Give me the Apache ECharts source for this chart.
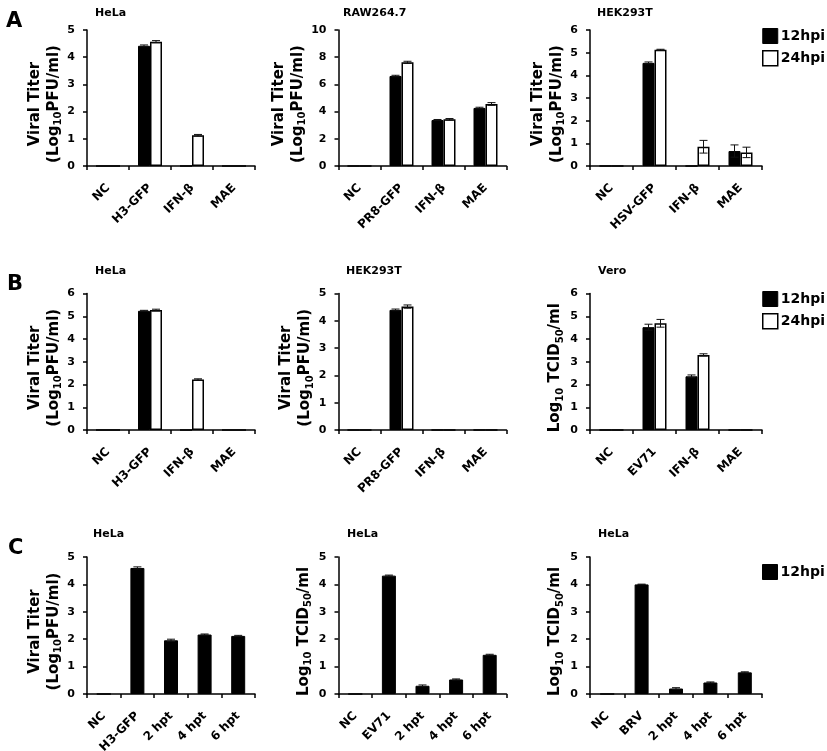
<!DOCTYPE html>
<html>
<head>
<meta charset="utf-8">
<script src="https://cdn.jsdelivr.net/npm/echarts@6/dist/echarts.min.js"></script>
<style>
html,body{margin:0;padding:0;background:#fff;}
#chart{width:827px;height:751px;}
</style>
</head>
<body>
<div id="chart"></div>
<script>
// ---------- data ----------
const catsA1 = ['NC', 'H3-GFP', 'IFN-β', 'MAE'];
const a1_12 = [0, 4.42, 0, 0];
const a1_24 = [0, 4.57, 1.13, 0];
const a1_12err = [0, 0.03, 0, 0];
const a1_24err = [0, 0.04, 0.03, 0];

const catsA2 = ['NC', 'PR8-GFP', 'IFN-β', 'MAE'];
const a2_12 = [0, 6.62, 3.38, 4.27];
const a2_24 = [0, 7.62, 3.43, 4.56];
const a2_12err = [0, 0.05, 0.04, 0.05];
const a2_24err = [0, 0.08, 0.06, 0.1];

const catsA3 = ['NC', 'HSV-GFP', 'IFN-β', 'MAE'];
const a3_12 = [0, 4.55, 0, 0.66];
const a3_24 = [0, 5.13, 0.85, 0.6];
const a3_12err = [0, 0.04, 0, 0.27];
const a3_24err = [0, 0.02, 0.28, 0.23];

const catsB1 = ['NC', 'H3-GFP', 'IFN-β', 'MAE'];
const b1_12 = [0, 5.24, 0, 0];
const b1_24 = [0, 5.27, 2.22, 0];
const b1_12err = [0, 0.02, 0, 0];
const b1_24err = [0, 0.04, 0.03, 0];

const catsB2 = ['NC', 'PR8-GFP', 'IFN-β', 'MAE'];
const b2_12 = [0, 4.4, 0, 0];
const b2_24 = [0, 4.52, 0, 0];
const b2_12err = [0, 0.03, 0, 0];
const b2_24err = [0, 0.06, 0, 0];

const catsB3 = ['NC', 'EV71', 'IFN-β', 'MAE'];
const b3_12 = [0, 4.52, 2.36, 0];
const b3_24 = [0, 4.69, 3.3, 0];
const b3_12err = [0, 0.13, 0.06, 0];
const b3_24err = [0, 0.17, 0.05, 0];

const catsC1 = ['NC', 'H3-GFP', '2 hpt', '4 hpt', '6 hpt'];
const c1_12 = [0, 4.6, 1.96, 2.17, 2.12];
const c1_12err = [0, 0.04, 0.04, 0.02, 0.02];

const catsC2 = ['NC', 'EV71', '2 hpt', '4 hpt', '6 hpt'];
const c2_12 = [0, 4.32, 0.3, 0.53, 1.43];
const c2_12err = [0, 0.02, 0.03, 0.02, 0.02];

const catsC3 = ['NC', 'BRV', '2 hpt', '4 hpt', '6 hpt'];
const c3_12 = [0, 4.0, 0.2, 0.42, 0.79];
const c3_12err = [0, 0.01, 0.03, 0.02, 0.02];

const yMax = [5, 10, 6, 6, 5, 6, 5, 5, 5];
const yStep = [1, 2, 1, 1, 1, 1, 1, 1, 1];
const titles = ['HeLa', 'RAW264.7', 'HEK293T', 'HeLa', 'HEK293T', 'Vero', 'HeLa', 'HeLa', 'HeLa'];
const letters = ['A', 'B', 'C'];
const legendNames = ['12hpi', '24hpi'];

// ---------- layout / style ----------
const FONT = 'DejaVu Sans';
const colLeft = [87, 338.5, 590];
const colWidth = [168, 168, 172];
const rowTop = [30, 293.5, 557];
const rowHeight = [136, 136.5, 137];
const titleLeft = [[95, 343, 597], [95, 346, 598], [93, 347, 598]];
const titleTop = [8, 266, 529];
const letterPos = [[6, 11], [7, 274], [8, 538]];
const legendTop = [28, 291, 564];

const NAME_PFU = '{t|Viral Titer}\n{t|(Log}{s|10}{t|PFU/ml)}';
const NAME_TCID = '{t|Log}{s|10}{t| TCID}{s|50}{t|/ml}';

const panels = [
  {cats: catsA1, s: [a1_12, a1_24], e: [a1_12err, a1_24err], name: NAME_PFU},
  {cats: catsA2, s: [a2_12, a2_24], e: [a2_12err, a2_24err], name: NAME_PFU},
  {cats: catsA3, s: [a3_12, a3_24], e: [a3_12err, a3_24err], name: NAME_PFU},
  {cats: catsB1, s: [b1_12, b1_24], e: [b1_12err, b1_24err], name: NAME_PFU},
  {cats: catsB2, s: [b2_12, b2_24], e: [b2_12err, b2_24err], name: NAME_PFU},
  {cats: catsB3, s: [b3_12, b3_24], e: [b3_12err, b3_24err], name: NAME_TCID},
  {cats: catsC1, s: [c1_12], e: [c1_12err], name: NAME_PFU},
  {cats: catsC2, s: [c2_12], e: [c2_12err], name: NAME_TCID},
  {cats: catsC3, s: [c3_12], e: [c3_12err], name: NAME_TCID}
];

const grids = [], xAxes = [], yAxes = [], series = [], titleArr = [], legends = [];

function errRender(offset, capHalf) {
  return function (params, api) {
    const i = api.value(0), v = api.value(1), e = api.value(2);
    if (!e || !v) return null;
    const c = api.coord([i, v]);
    const t = api.coord([i, v + e]);
    const b = api.coord([i, Math.max(0, v - e)]);
    const x = c[0] + offset;
    const st = {stroke: '#111', lineWidth: 1};
    return {
      type: 'group',
      children: [
        {type: 'line', shape: {x1: x, y1: t[1], x2: x, y2: b[1]}, style: st},
        {type: 'line', shape: {x1: x - capHalf, y1: t[1], x2: x + capHalf, y2: t[1]}, style: st},
        {type: 'line', shape: {x1: x - capHalf, y1: b[1], x2: x + capHalf, y2: b[1]}, style: st}
      ]
    };
  };
}

panels.forEach((p, k) => {
  const r = Math.floor(k / 3), c = k % 3;
  grids.push({left: colLeft[c], top: rowTop[r], width: colWidth[c], height: rowHeight[r],
              containLabel: false, outerBoundsMode: 'none'});
  xAxes.push({
    type: 'category', gridIndex: k, data: p.cats,
    axisLine: {lineStyle: {color: '#000', width: 1.5}},
    axisTick: {show: true, length: 4, lineStyle: {color: '#000', width: 1.5}},
    axisLabel: {interval: 0, rotate: 45, margin: 20, fontFamily: FONT, fontWeight: 'bold', fontSize: 12, color: '#000'}
  });
  yAxes.push({
    type: 'value', gridIndex: k, min: 0, max: yMax[k], interval: yStep[k],
    splitLine: {show: false},
    axisLine: {show: true, lineStyle: {color: '#000', width: 1.5}},
    axisTick: {show: true, length: 4, lineStyle: {color: '#000', width: 1.5}},
    axisLabel: {margin: 12, fontFamily: FONT, fontWeight: 'bold', fontSize: 11, color: '#000'},
    name: p.name, nameLocation: 'middle', nameRotate: 90,
    nameGap: p.name === NAME_PFU ? 22 : 25,
    nameTextStyle: {
      padding: [0, 12, 0, 0],
      rich: {
        t: {fontFamily: FONT, fontWeight: 'bold', fontSize: 15, color: '#000', lineHeight: 19},
        s: {fontFamily: FONT, fontWeight: 'bold', fontSize: 10, color: '#000', lineHeight: 10, verticalAlign: 'bottom'}
      }
    }
  });
  const two = p.s.length === 2;
  const bw = two ? 12 : 14;
  p.s.forEach((vals, j) => {
    const white = j === 1;
    series.push({
      type: 'bar', name: legendNames[j], xAxisIndex: k, yAxisIndex: k,
      data: vals, barWidth: bw, barGap: '0%',
      itemStyle: white ? {color: '#fff', borderColor: '#000', borderWidth: 1.5}
                       : {color: '#000', borderColor: '#000', borderWidth: 1},
      emphasis: {disabled: true}, animation: false
    });
  });
  p.s.forEach((vals, j) => {
    const off = two ? (j === 0 ? -bw / 2 : bw / 2) : 0;
    series.push({
      type: 'custom', name: 'err', xAxisIndex: k, yAxisIndex: k,
      renderItem: errRender(off, 4),
      data: vals.map((v, i) => [i, v, p.e[j][i]]),
      encode: {x: 0, y: 1}, z: 5, silent: true, animation: false
    });
  });
  titleArr.push({
    text: titles[k], left: titleLeft[r][c], top: titleTop[r],
    textStyle: {fontFamily: FONT, fontWeight: 'bold', fontSize: 11, color: '#000'}, padding: 0
  });
});

letters.forEach((L, r) => {
  titleArr.push({
    text: L, left: letterPos[r][0], top: letterPos[r][1], padding: 0,
    textStyle: {fontFamily: FONT, fontWeight: 'bold', fontSize: 21, color: '#000'}
  });
});

[2, 2, 1].forEach((n, r) => {
  const items = [
    {name: '12hpi', itemStyle: {color: '#000', borderColor: '#000', borderWidth: 1}},
    {name: '24hpi', itemStyle: {color: '#fff', borderColor: '#000', borderWidth: 1.5}}
  ].slice(0, n);
  legends.push({
    orient: 'vertical', left: 762, top: legendTop[r], padding: 0,
    itemWidth: 15, itemHeight: 15, itemGap: 6, icon: 'rect',
    selectedMode: false, data: items,
    textStyle: {fontFamily: FONT, fontWeight: 'bold', fontSize: 14, color: '#000', padding: [0, 0, 0, -2]}
  });
});

const chart = echarts.init(document.getElementById('chart'), null, {renderer: 'canvas'});
chart.setOption({
  backgroundColor: '#fff',
  animation: false,
  title: titleArr,
  legend: legends,
  grid: grids,
  xAxis: xAxes,
  yAxis: yAxes,
  series: series
});
</script>
</body>
</html>
